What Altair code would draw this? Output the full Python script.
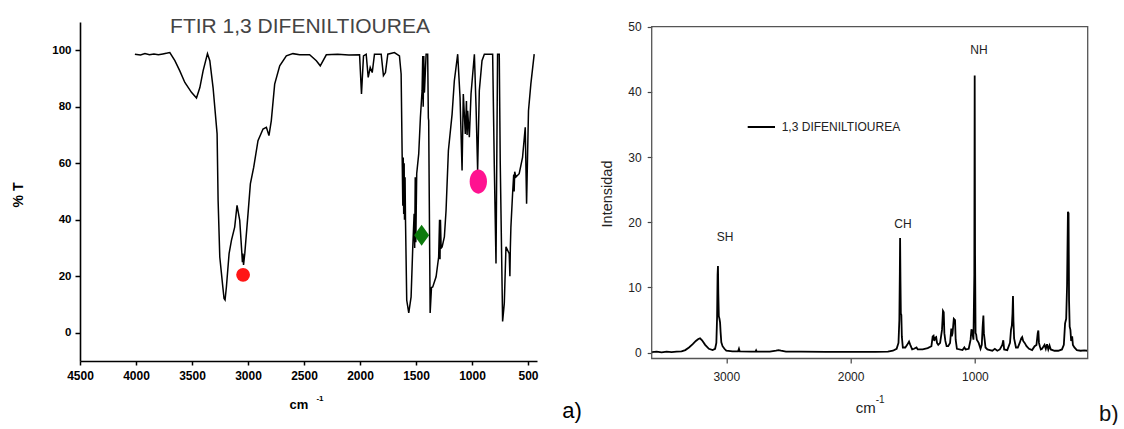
import altair as alt
import pandas as pd

# ---------------- FTIR (panel a) ----------------
ftir_points = [
    (4010, 98.6), (3960, 98.3), (3920, 98.8), (3880, 98.4), (3840, 98.7), (3800, 98.4),
    (3760, 98.7), (3720, 99.0), (3698, 99.2), (3653, 96.3), (3609, 92.7), (3564, 88.6),
    (3505, 85.1), (3460, 83.1), (3430, 86.8), (3401, 92.7), (3362, 98.8), (3341, 96.3),
    (3312, 86.8), (3276, 70.4), (3267, 46.8), (3252, 26.8), (3228, 17.4), (3214, 12.1),
    (3205, 11.6), (3193, 16.2), (3169, 28.0), (3148, 32.7), (3119, 37.4), (3098, 45.1),
    (3074, 39.8), (3058, 30.0), (3050, 25.0), (3046, 28.0), (3040, 24.0), (3029, 28.0),
    (3000, 42.1), (2979, 52.7), (2949, 58.6), (2911, 68.0), (2866, 72.1), (2836, 72.7),
    (2813, 69.8), (2792, 75.1), (2762, 88.0), (2717, 94.5), (2658, 98.0), (2599, 98.8),
    (2539, 98.4), (2450, 98.4), (2390, 96.3), (2355, 94.5), (2301, 98.4), (2200, 98.6),
    (2100, 98.3), (2004, 98.4), (1987, 84.5), (1969, 98.0), (1945, 98.6), (1927, 90.4),
    (1909, 93.9), (1891, 92.1), (1871, 98.6), (1811, 98.6), (1791, 91.0), (1773, 92.1),
    (1752, 98.6), (1693, 99.2), (1648, 98.0), (1633, 91.6), (1624, 63.3), (1618, 45.0),
    (1614, 62.0), (1610, 42.0), (1606, 60.0), (1603, 40.0), (1598, 55.0), (1594, 39.8),
    (1583, 11.5), (1565, 7.0), (1544, 12.7), (1529, 30.4), (1517, 42.1), (1512, 30.0),
    (1507, 55.0), (1502, 32.0), (1494, 56.3), (1476, 63.3), (1461, 76.2), (1446, 85.7),
    (1440, 98.0), (1436, 80.0), (1431, 98.0), (1425, 85.0), (1410, 98.6), (1396, 98.6),
    (1390, 76.0), (1387, 75.1), (1374, 7.0), (1362, 16.0), (1351, 16.2), (1321, 19.8),
    (1298, 26.8), (1290, 40.0), (1286, 26.0), (1282, 40.0), (1276, 30.0), (1267, 30.4),
    (1247, 33.9), (1232, 43.3), (1211, 64.5), (1178, 77.4), (1158, 89.2), (1128, 98.6),
    (1107, 83.3), (1089, 57.4), (1078, 84.5), (1060, 70.4), (1050, 82.0), (1044, 70.0),
    (1039, 78.6), (1024, 69.2), (1009, 84.5), (979, 98.6), (964, 79.8), (950, 57.4),
    (935, 85.7), (911, 96.3), (890, 98.6), (816, 98.6), (801, 58.6), (786, 24.5),
    (772, 98.6), (757, 98.6), (748, 59.8), (727, 4.0), (712, 10.4), (697, 30.4),
    (668, 28.0), (662, 20.0), (658, 30.0), (653, 37.4), (638, 49.2), (628, 56.0),
    (624, 50.0), (619, 57.0), (608, 55.1), (579, 56.3), (549, 62.1), (525, 72.7),
    (513, 45.7), (496, 78.6), (475, 88.0), (445, 98.6),
]
ftir_wn = [p[0] for p in ftir_points]
ftir_t = [p[1] for p in ftir_points]

marker_wn = [3044, 1450, 944]
marker_t = [20.5, 34.5, 53.5]
marker_color = ["#ff1616", "#0c7a0c", "#ff1290"]
marker_shape = [
    "circle",
    "M0,-1.4L1,0L0,1.4L-1,0Z",
    "M-1,0A1,1.39,0,1,0,1,0A1,1.39,0,1,0,-1,0Z",
]
marker_size = [190, 225, 300]

ftir_x_ticks = list(range(4500, 499, -250))
ftir_y_ticks = list(range(0, 111, 10))

# ---------------- Raman (panel b) ----------------
raman_points = [
    (3600, 0.1), (3560, 0.15), (3520, 0.05), (3480, 0.15), (3440, 0.1), (3400, 0.15),
    (3360, 0.2), (3330, 0.4), (3300, 0.8), (3270, 1.3), (3245, 1.8), (3225, 2.1),
    (3211, 2.2), (3195, 1.9), (3170, 1.2), (3140, 0.6), (3110, 0.4), (3090, 0.6),
    (3080, 1.5), (3074, 5.5), (3070, 12.0), (3067, 13.3), (3064, 9.0), (3060, 5.6),
    (3055, 5.2), (3050, 4.6), (3046, 3.2), (3040, 1.6), (3030, 1.0), (3015, 0.6),
    (3000, 0.3), (2950, 0.2), (2905, 0.2), (2898, 0.6), (2892, 0.2), (2800, 0.15),
    (2765, 0.15), (2760, 0.35), (2755, 0.15), (2650, 0.15), (2600, 0.3), (2580, 0.4),
    (2560, 0.3), (2520, 0.15), (2400, 0.15), (2200, 0.12), (2000, 0.12), (1800, 0.12),
    (1700, 0.15), (1660, 0.3), (1630, 0.6), (1615, 1.5), (1608, 5.0), (1604, 12.5),
    (1602, 17.6), (1599, 11.0), (1596, 6.0), (1592, 5.8), (1588, 2.5), (1580, 0.8),
    (1560, 0.8), (1545, 1.2), (1530, 1.7), (1520, 1.2), (1505, 0.5), (1490, 0.6),
    (1470, 0.8), (1460, 0.5), (1420, 0.5), (1380, 0.7), (1350, 1.0), (1340, 2.5),
    (1333, 2.6), (1327, 1.8), (1320, 2.3), (1312, 2.4), (1305, 1.5), (1295, 1.2),
    (1280, 1.5), (1265, 3.5), (1257, 6.4), (1251, 6.2), (1246, 3.0), (1238, 1.8),
    (1228, 1.0), (1215, 1.0), (1200, 1.5), (1190, 3.7), (1186, 2.5), (1180, 3.0),
    (1170, 5.2), (1160, 5.0), (1155, 2.0), (1145, 0.6), (1100, 0.4), (1085, 0.8),
    (1075, 0.5), (1050, 0.6), (1035, 2.0), (1028, 3.6), (1020, 3.0), (1012, 2.0),
    (1005, 12.0), (1002, 42.5), (999, 15.0), (995, 3.0), (990, 2.8), (985, 2.0),
    (970, 1.5), (955, 0.6), (945, 1.2), (938, 4.0), (932, 5.7), (928, 3.0),
    (922, 2.0), (915, 0.8), (900, 0.5), (880, 0.4), (860, 0.3), (840, 0.6),
    (820, 0.3), (800, 0.5), (780, 1.2), (772, 1.9), (765, 0.5), (740, 0.4),
    (718, 1.5), (710, 3.5), (703, 4.2), (698, 6.0), (694, 8.7), (690, 4.8),
    (685, 2.2), (670, 0.8), (655, 0.8), (640, 1.5), (628, 2.2), (620, 2.4),
    (612, 1.8), (600, 1.5), (585, 1.0), (565, 0.6), (540, 0.4), (520, 1.0),
    (505, 1.2), (495, 3.0), (490, 3.4), (485, 1.5), (478, 1.0), (470, 0.5),
    (460, 0.6), (440, 1.2), (430, 0.6), (420, 1.3), (410, 0.5), (400, 1.1),
    (390, 0.5), (360, 0.3), (330, 0.3), (300, 0.5), (285, 1.2), (275, 4.5),
    (266, 5.2), (259, 10.3), (252, 21.6), (247, 21.4), (243, 8.0), (238, 4.0),
    (232, 3.5), (226, 1.8), (218, 2.5), (212, 1.2), (200, 0.8), (180, 0.4),
    (150, 0.3), (120, 0.35), (95, 0.3),
]
raman_wn = [p[0] for p in raman_points]
raman_i = [p[1] for p in raman_points]

peak_labels = ["SH", "CH", "NH"]
peak_wn = [3010, 1579, 967]
peak_y = [17.7, 19.7, 46.4]

raman_x_ticks = [3000, 2000, 1000]
raman_y_ticks = [0, 10, 20, 30, 40, 50]

# ---------------- build tables ----------------
ftir_df = pd.DataFrame({"wn": ftir_wn, "t": ftir_t, "i": range(len(ftir_wn))})
marker_df = pd.DataFrame({"wn": marker_wn, "t": marker_t, "c": marker_color,
                          "s": marker_shape, "z": marker_size})
raman_df = pd.DataFrame({"wn": raman_wn, "inten": raman_i, "i": range(len(raman_wn))})
peak_df = pd.DataFrame({"wn": peak_wn, "inten": peak_y, "label": peak_labels})
one = pd.DataFrame({"a": [0]})

LW, LH = 457, 339
RW, RH = 436, 336.5

FONT = "Liberation Sans"

left_x_axis = alt.Axis(
    values=ftir_x_ticks,
    labelExpr="datum.value % 500 == 0 ? format(datum.value, 'd') : ''",
    domainColor="black", domainWidth=1.6, tickColor="black", tickWidth=1.5, tickSize=4,
    labelFont=FONT, labelFontWeight="bold", labelFontSize=12, labelColor="black",
    labelPadding=5, labelFlush=False, labelOverlap=False, grid=False, title=None,
)
left_y_axis = alt.Axis(
    values=ftir_y_ticks,
    labelExpr="datum.value % 20 == 0 && datum.value <= 100 ? format(datum.value, 'd') : ''",
    domainColor="black", domainWidth=1.6, tickColor="black", tickWidth=1.5, tickSize=5,
    labelFont=FONT, labelFontWeight="bold", labelFontSize=11.5, labelColor="black",
    labelPadding=4, labelFlush=False, labelOverlap=False, grid=False, title=None,
)

ftir_line = alt.Chart(ftir_df).mark_line(color="black", strokeWidth=1.5).encode(
    x=alt.X("wn:Q", scale=alt.Scale(domain=[4500, 420], nice=False, zero=False), axis=left_x_axis),
    y=alt.Y("t:Q", scale=alt.Scale(domain=[-10, 110], nice=False, zero=False), axis=left_y_axis),
    order="i:Q",
)
markers = alt.Chart(marker_df).mark_point(filled=True, opacity=1, strokeWidth=0).encode(
    x=alt.X("wn:Q"),
    y=alt.Y("t:Q"),
    color=alt.Color("c:N", scale=None),
    shape=alt.Shape("s:N", scale=None),
    size=alt.Size("z:Q", scale=None),
)

def txt(text, x, y, size, weight="normal", angle=0, color="black", align="center", font=FONT):
    return alt.Chart(one).mark_text(
        text=text, fontSize=size, fontWeight=weight, angle=angle, color=color,
        align=align, baseline="middle", font=font,
    ).encode(x=alt.value(x), y=alt.value(y))

anchor = alt.Chart(one).mark_rule(strokeOpacity=0, strokeWidth=0.01).encode(
    x=alt.value(-80), y=alt.value(-22), x2=alt.value(-79), y2=alt.value(-21)
)

left = alt.layer(
    ftir_line,
    markers,
    txt("FTIR 1,3 DIFENILTIOUREA", 220, 5, 21, color="#444"),
    txt("% T", -61.5, 173, 14, weight="bold", angle=270),
    txt("cm", 219, 383, 13, weight="bold"),
    txt("-1", 240, 377, 8, weight="bold"),
    txt("a)", 492, 389, 22),
    anchor,
).properties(width=LW, height=LH)

right_x_axis = alt.Axis(
    values=raman_x_ticks, format="d", domain=False, tickColor="#444", tickWidth=1.2,
    tickSize=4.5, labelFont=FONT, labelFontSize=12, labelColor="#222", labelPadding=8,
    labelFlush=False, grid=False, title=None,
)
right_y_axis = alt.Axis(
    values=raman_y_ticks, format="d", domain=False, tickColor="#444", tickWidth=1.2,
    tickSize=4.5, labelFont=FONT, labelFontSize=12, labelColor="#222", labelPadding=6,
    labelFlush=False, grid=False, title=None,
)

raman_line = alt.Chart(raman_df).mark_line(color="black", strokeWidth=1.8).encode(
    x=alt.X("wn:Q", scale=alt.Scale(domain=[3600, 93], nice=False, zero=False), axis=right_x_axis),
    y=alt.Y("inten:Q", scale=alt.Scale(domain=[-0.89, 50.72], nice=False, zero=False), axis=right_y_axis),
    order="i:Q",
)
peaks = alt.Chart(peak_df).mark_text(fontSize=12, font=FONT, color="#222", baseline="middle").encode(
    x=alt.X("wn:Q"), y=alt.Y("inten:Q"), text="label:N"
)
frame = alt.Chart(one).mark_rect(fillOpacity=0, stroke="#555", strokeWidth=1.3).encode(
    x=alt.value(0), x2=alt.value(RW), y=alt.value(4.7), y2=alt.value(RH)
)
legend_rule = alt.Chart(one).mark_rule(color="black", strokeWidth=2).encode(
    x=alt.value(96), x2=alt.value(123.3), y=alt.value(105)
)

right = alt.layer(
    raman_line,
    frame,
    peaks,
    legend_rule,
    txt("1,3 DIFENILTIOUREA", 130, 105, 12, color="#222", align="left"),
    txt("Intensidad", -44, 172, 14.5, angle=270, color="#222"),
    txt("cm", 214, 386, 15, color="#222"),
    txt("-1", 228.5, 378, 10, color="#222"),
    txt("b)", 457, 392, 22, color="#111"),
).properties(width=RW, height=RH)

chart = alt.hconcat(left, right, spacing=114.7, bounds="flush").properties(
    padding=0
).configure_view(strokeWidth=0)

chart.save("out.html", embed_options={"renderer": "svg", "actions": False})
